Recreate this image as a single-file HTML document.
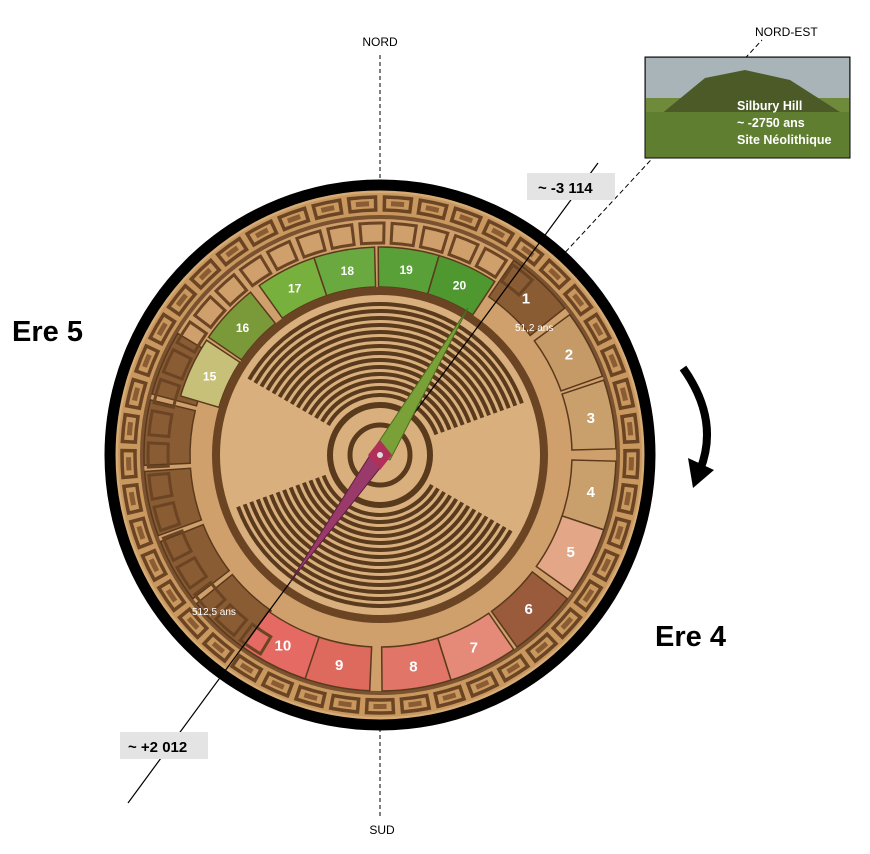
<!DOCTYPE html>
<html><head><meta charset="utf-8"><style>
html,body{margin:0;padding:0;background:#fff;}
svg{display:block;font-family:"Liberation Sans",sans-serif;}
</style></head><body>
<svg id="s" width="870" height="854" viewBox="0 0 870 854" xmlns="http://www.w3.org/2000/svg">
<rect width="870" height="854" fill="#fff"/>
<line x1="380" y1="55" x2="380" y2="185" stroke="#000" stroke-dasharray="4,3"/>
<line x1="380" y1="728" x2="380" y2="818" stroke="#000" stroke-dasharray="4,3"/>
<text x="380" y="46" font-size="12" text-anchor="middle">NORD</text>
<text x="382" y="834" font-size="12" text-anchor="middle">SUD</text>
<line x1="560" y1="258" x2="762" y2="40" stroke="#000" stroke-dasharray="5,3"/>
<text x="755" y="36" font-size="12">NORD-EST</text>
<circle cx="380" cy="455" r="270" fill="#d5aa74" stroke="#000" stroke-width="11"/>
<circle cx="380" cy="455" r="262" fill="#c8985f"/>
<circle cx="380" cy="455" r="240" fill="#7a5230"/>
<circle cx="380" cy="455" r="236" fill="#cfa06b"/>
<g id="seg"></g>
<circle cx="380" cy="455" r="168" fill="#6b4424"/>
<circle cx="380" cy="455" r="160" fill="#d9b07d"/>
<g id="wings"></g>
<circle cx="380" cy="455" r="50" fill="#d9b07d" stroke="#5a3a1c" stroke-width="6"/>
<circle cx="380" cy="455" r="30" fill="#d9b07d" stroke="#5a3a1c" stroke-width="5"/>
<line x1="128" y1="803" x2="598" y2="163" stroke="#000" stroke-width="1.2"/>
<polygon points="372,452 468,308 390,460" fill="#7aa038" stroke="#4d6b20" stroke-width="1"/>
<polygon points="388,458 290,582 372,452" fill="#9a3a6a" stroke="#5c2040" stroke-width="1"/>
<polygon points="380,440 392,455 380,470 368,455" fill="#b0305a"/>
<circle cx="380" cy="455" r="3" fill="#ddd"/>
<rect x="527" y="173" width="88" height="27" fill="#e4e4e4"/>
<text x="538" y="193" font-size="15" font-weight="bold">~ -3 114</text>
<rect x="120" y="732" width="88" height="27" fill="#e4e4e4"/>
<text x="128" y="752" font-size="15" font-weight="bold">~ +2 012</text>
<text x="12" y="341" font-size="29" font-weight="bold">Ere 5</text>
<text x="655" y="646" font-size="29" font-weight="bold">Ere 4</text>
<text x="515" y="331" font-size="10" fill="#fff">51,2 ans</text>
<text x="192" y="615" font-size="10" fill="#fff">512,5 ans</text>
<rect x="645" y="57" width="205" height="101" fill="#6f8a3a" stroke="#000"/>
<rect x="646" y="58" width="203" height="40" fill="#a9b4b8"/>
<polygon points="660,115 705,78 745,70 790,80 840,112" fill="#4c5a28"/>
<rect x="646" y="112" width="203" height="45" fill="#5f7e30"/>
<text x="737" y="110" font-size="12.5" font-weight="bold" fill="#fff">Silbury Hill</text>
<text x="737" y="127" font-size="12.5" font-weight="bold" fill="#fff">~ -2750 ans</text>
<text x="737" y="144" font-size="12.5" font-weight="bold" fill="#fff">Site Néolithique</text>
<path d="M683,368 Q720,420 700,470" fill="none" stroke="#000" stroke-width="8"/>
<polygon points="688,458 714,470 693,488" fill="#000"/>
</svg>
<script>
var cx=380,cy=455,NS="http://www.w3.org/2000/svg";
function pt(r,a){a=a*Math.PI/180;return [cx+r*Math.sin(a),cy-r*Math.cos(a)];}
function sector(r1,r2,a1,a2){var p1=pt(r2,a1),p2=pt(r2,a2),p3=pt(r1,a2),p4=pt(r1,a1);
return "M"+p1+" A"+r2+","+r2+" 0 0 1 "+p2+" L"+p3+" A"+r1+","+r1+" 0 0 0 "+p4+"Z";}
function add(g,tag,attrs){var e=document.createElementNS(NS,tag);for(var k in attrs)e.setAttribute(k,attrs[k]);g.appendChild(e);return e;}
var seg=document.getElementById("seg");
for(var a=0;a<360;a+=8){add(seg,"path",{d:sector(245,258,a+1,a+7),fill:"none",stroke:"#6b4424","stroke-width":3.5});
add(seg,"path",{d:sector(249,254,a+2.5,a+5.5),fill:"#8a5c34"});}
var segs=[[1,43,"#8a5c34",0],[2,62,"#c59a66",0],[3,80,"#c9a06c",0],[4,100,"#c9a06c",0],[5,117,"#e3a788",0],[6,136,"#9a5a3c",0],[7,154,"#e58a78",0],[8,171,"#e07568",0],[9,191,"#de6a5e",0],[10,207,"#e56a64",0],
[15,295,"#c7c078",1],[16,313,"#7a9a3a",1],[17,333,"#78b03e",1],[18,350,"#6aa840",1],[19,368,"#5aa038",1],[20,385,"#4f9830",1]];
for(var a=215;a<290;a+=17.5){add(seg,"path",{d:sector(190,236,a,a+16),fill:"#8a5c34",stroke:"#5a3a1c","stroke-width":1.5});}
segs.forEach(function(s){var r1=s[3]?168:192,r2=s[3]?208:236;
add(seg,"path",{d:sector(r1,r2,s[1]-8.5,s[1]+8.5),fill:s[2],stroke:"#5a3a1c","stroke-width":1.5});
var p=pt((r1+r2)/2,s[1]);var t=add(seg,"text",{x:p[0],y:p[1]+5,"font-size":s[3]?12:15,"font-weight":"bold",fill:"#fff","text-anchor":"middle"});t.textContent=s[0];});
for(var a=210;a<395;a+=8){add(seg,"path",{d:sector(212,232,a+1,a+7),fill:"none",stroke:"#6b4424","stroke-width":3});}
var w=document.getElementById("wings");
for(var i=0;i<14;i++){var r=60+i*7;
add(w,"path",{d:"M"+pt(r,-60)+" A"+r+","+r+" 0 0 1 "+pt(r,70),fill:"none",stroke:"#5a3a1c","stroke-width":4});
add(w,"path",{d:"M"+pt(r,120)+" A"+r+","+r+" 0 0 1 "+pt(r,250),fill:"none",stroke:"#5a3a1c","stroke-width":4});}
</script>
</body></html>
